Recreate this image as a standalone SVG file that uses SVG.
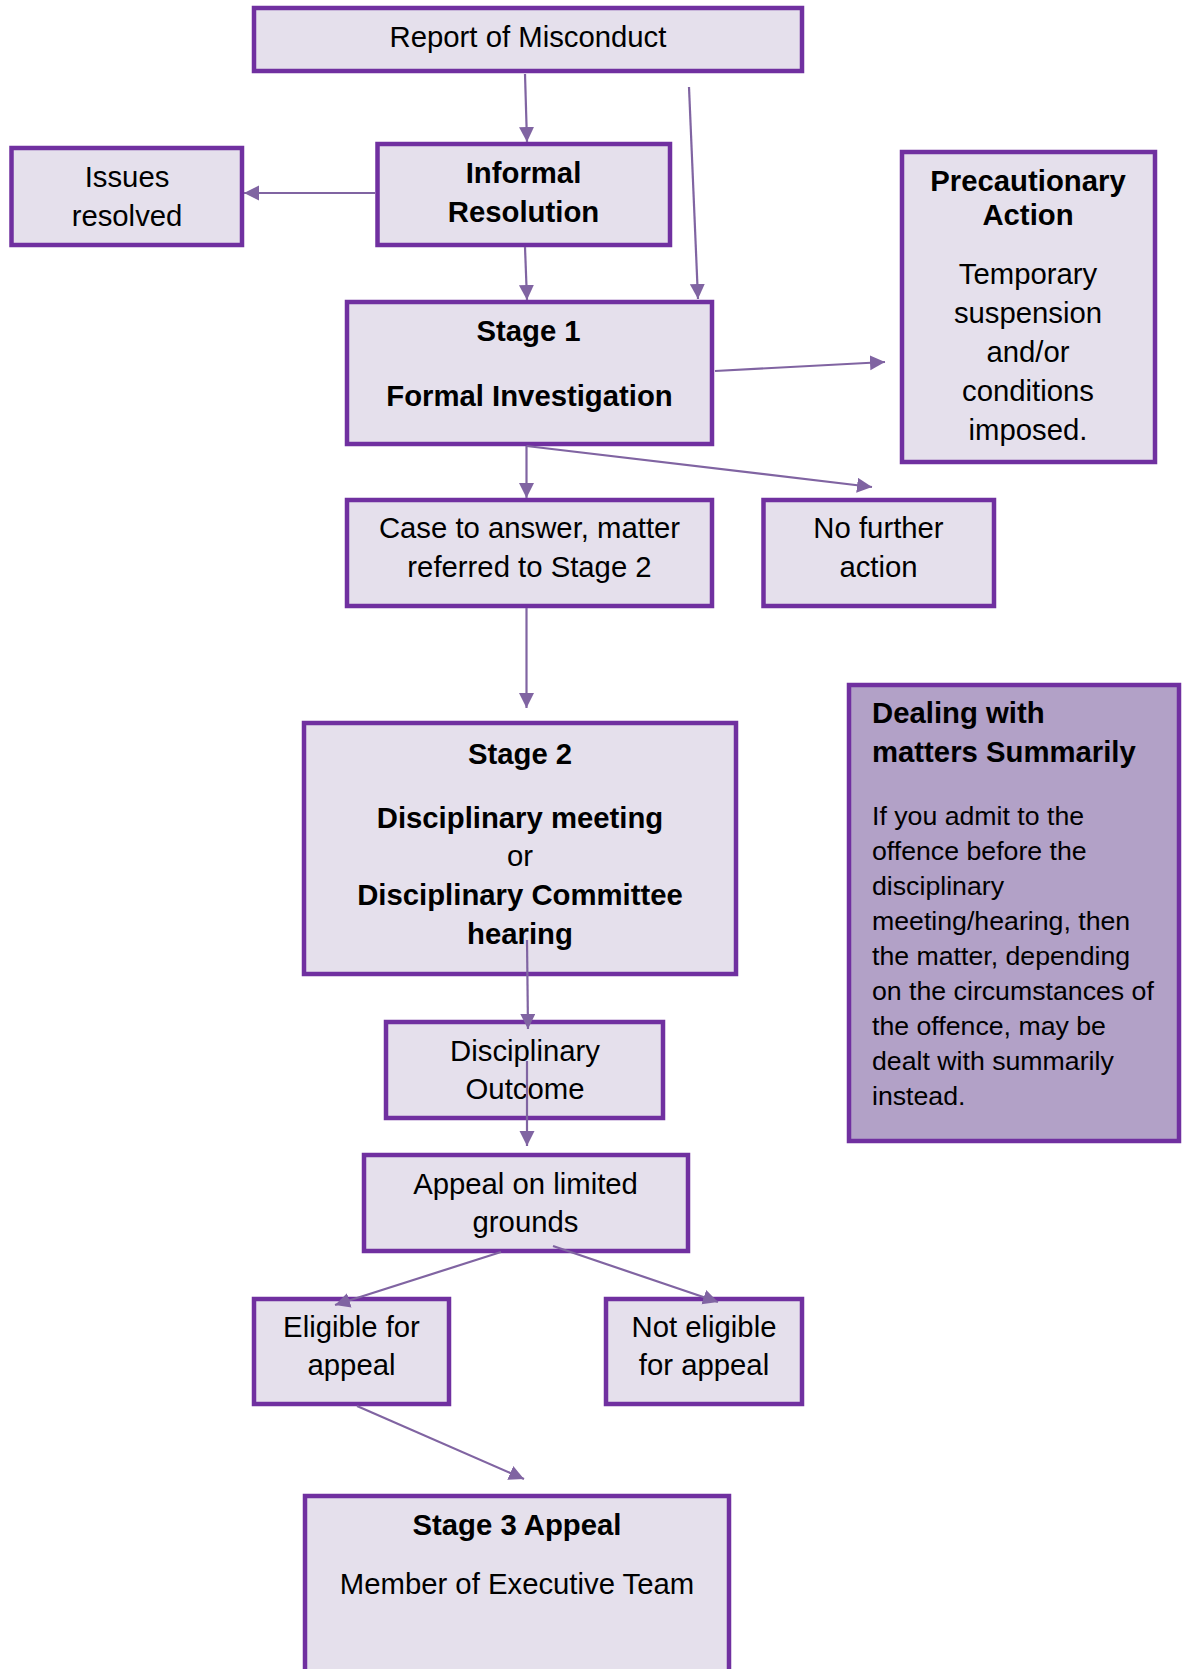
<svg xmlns="http://www.w3.org/2000/svg" width="1189" height="1669" viewBox="0 0 1189 1669">
<style>
.box{fill:#E5E0EC;stroke:#7030A0;stroke-width:4.5}
.dark{fill:#B2A1C7;stroke:#7030A0;stroke-width:4.5}
.t{font-family:"Liberation Sans",Arial,sans-serif;font-size:29.3px;fill:#000;text-anchor:middle}
.b{font-weight:bold}
.s{font-family:"Liberation Sans",Arial,sans-serif;font-size:26.7px;fill:#000}
.sb{font-family:"Liberation Sans",Arial,sans-serif;font-size:29.3px;font-weight:bold;fill:#000}
.c line{stroke:#8064A2;stroke-width:2.2;fill:none;marker-end:url(#ah)}
</style>
<defs>
<marker id="ah" markerUnits="userSpaceOnUse" markerWidth="16" markerHeight="16" refX="15" refY="7.5" orient="auto">
<path d="M0,0 L15,7.5 L0,15 Z" fill="#8064A2"/>
</marker>
</defs>
<rect width="1189" height="1669" fill="#fff"/>
<g id="report">
<rect class="box" x="254" y="8" width="548" height="63"/>
<text class="t" x="528" y="47">Report of Misconduct</text>
</g>
<g id="issues">
<rect class="box" x="11.5" y="148" width="230.5" height="97"/>
<text class="t" x="127" y="187">Issues</text>
<text class="t" x="127" y="226">resolved</text>
</g>
<g id="informal">
<rect class="box" x="377.5" y="144" width="292.5" height="101"/>
<text class="t b" x="523.5" y="183">Informal</text>
<text class="t b" x="523.5" y="222">Resolution</text>
</g>
<g id="stage1">
<rect class="box" x="347" y="302" width="365" height="142"/>
<text class="t b" x="528.5" y="341">Stage 1</text>
<text class="t b" x="529.5" y="406">Formal Investigation</text>
</g>
<g id="precautionary">
<rect class="box" x="902" y="152" width="253" height="310"/>
<text class="t b" x="1028" y="191">Precautionary</text>
<text class="t b" x="1028" y="225">Action</text>
<text class="t" x="1028" y="284">Temporary</text>
<text class="t" x="1028" y="323">suspension</text>
<text class="t" x="1028" y="362">and/or</text>
<text class="t" x="1028" y="401">conditions</text>
<text class="t" x="1028" y="440">imposed.</text>
</g>
<g id="case">
<rect class="box" x="347" y="500" width="365" height="106"/>
<text class="t" x="529.5" y="538">Case to answer, matter</text>
<text class="t" x="529.5" y="577">referred to Stage 2</text>
</g>
<g id="nofurther">
<rect class="box" x="763.5" y="500" width="230.5" height="106"/>
<text class="t" x="878.5" y="538">No further</text>
<text class="t" x="878.5" y="577">action</text>
</g>
<g id="stage2">
<rect class="box" x="304" y="723" width="432" height="251"/>
<text class="t b" x="520" y="764">Stage 2</text>
<text class="t b" x="520" y="828">Disciplinary meeting</text>
<text class="t" x="520" y="866">or</text>
<text class="t b" x="520" y="905">Disciplinary Committee</text>
<text class="t b" x="520" y="944">hearing</text>
</g>
<g id="summarily">
<rect class="dark" x="849" y="685" width="330" height="456"/>
<text class="sb" x="872" y="722.5">Dealing with</text>
<text class="sb" x="872" y="762">matters Summarily</text>
<text class="s" x="872" y="824.5">If you admit to the</text>
<text class="s" x="872" y="859.6">offence before the</text>
<text class="s" x="872" y="894.7">disciplinary</text>
<text class="s" x="872" y="929.8">meeting/hearing, then</text>
<text class="s" x="872" y="964.9">the matter, depending</text>
<text class="s" x="872" y="1000">on the circumstances of</text>
<text class="s" x="872" y="1035.1">the offence, may be</text>
<text class="s" x="872" y="1070.2">dealt with summarily</text>
<text class="s" x="872" y="1105.3">instead.</text>
</g>
<g id="outcome">
<rect class="box" x="386" y="1022" width="277" height="96"/>
<text class="t" x="525" y="1061">Disciplinary</text>
<text class="t" x="525" y="1099">Outcome</text>
</g>
<g id="appeal">
<rect class="box" x="364" y="1155" width="324" height="96"/>
<text class="t" x="525.5" y="1193.5">Appeal on limited</text>
<text class="t" x="525.5" y="1232">grounds</text>
</g>
<g id="eligible">
<rect class="box" x="254" y="1299" width="195" height="105"/>
<text class="t" x="351.5" y="1337">Eligible for</text>
<text class="t" x="351.5" y="1375">appeal</text>
</g>
<g id="noteligible">
<rect class="box" x="606" y="1299" width="196" height="105"/>
<text class="t" x="704" y="1337">Not eligible</text>
<text class="t" x="704" y="1375">for appeal</text>
</g>
<g id="stage3">
<rect class="box" x="305" y="1496" width="424" height="200"/>
<text class="t b" x="517" y="1535">Stage 3 Appeal</text>
<text class="t" x="517" y="1594">Member of Executive Team</text>
</g>
<g class="c" id="connectors">
<line x1="525" y1="74" x2="527" y2="142"/>
<line x1="525" y1="247" x2="527" y2="300"/>
<line x1="689" y1="87" x2="698" y2="299"/>
<line x1="375" y1="193" x2="244" y2="193"/>
<line x1="715" y1="371" x2="885" y2="362"/>
<line x1="526.5" y1="446" x2="526.5" y2="498"/>
<line x1="526.5" y1="446" x2="872" y2="487"/>
<line x1="526.5" y1="608" x2="526.5" y2="708"/>
<line x1="527" y1="940" x2="528" y2="1029"/>
<line x1="527" y1="1061" x2="527" y2="1146"/>
<line x1="501" y1="1252" x2="335" y2="1305"/>
<line x1="553" y1="1246" x2="718" y2="1302"/>
<line x1="357" y1="1406" x2="524" y2="1479"/>
</g>
</svg>
